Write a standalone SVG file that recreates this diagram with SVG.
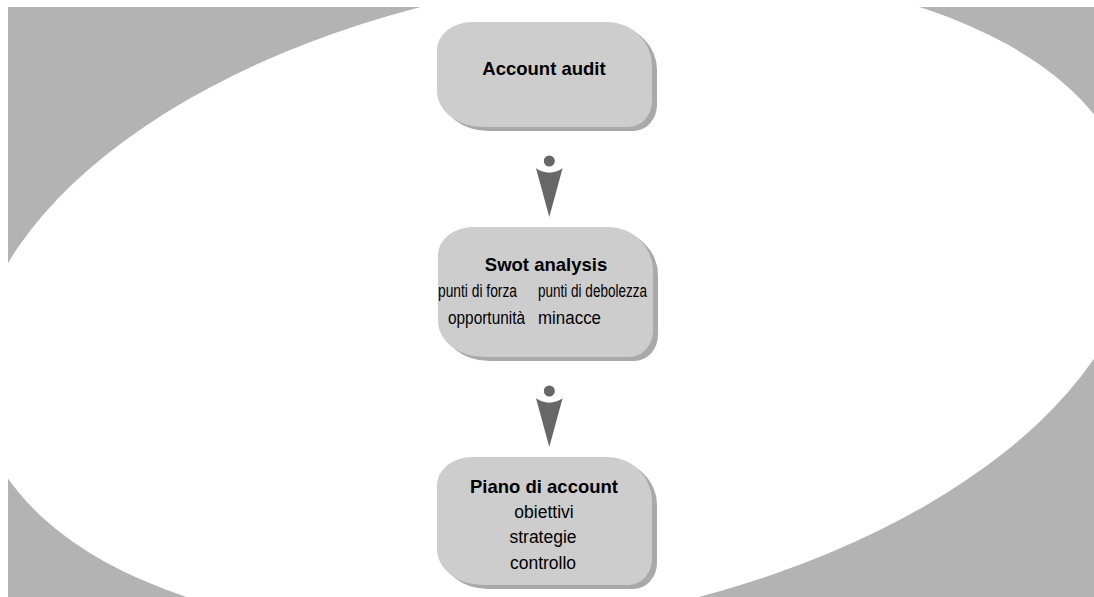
<svg xmlns="http://www.w3.org/2000/svg" width="1094" height="597" viewBox="0 0 1094 597">
<style>
.shadow{fill:#a9a9a9}
.box{fill:#cdcdcd}
.title{font-family:"Liberation Sans",Arial,sans-serif;font-weight:bold;font-size:18.5px;fill:#000;text-anchor:middle}
.sub{font-family:"Liberation Sans",Arial,sans-serif;font-size:17.5px;fill:#000}
.arrow{fill:#676767}
</style>
<defs>
<g id="arrowShape">
<circle cx="0" cy="0" r="5.5"/>
<path d="M -13.3 7.3 Q 0 16 13.3 7.3 L 0 56 Z"/>
</g>
<path id="shape105" d="M35,0 H170 A45,44 0 0 1 215,44 V79 A24,26 0 0 1 191,105 H46 A46,36 0 0 1 0,69 V28 A35,28 0 0 1 35,0 Z"/>
<path id="shape130" d="M35,0 H170 A45,44 0 0 1 215,44 V104 A24,26 0 0 1 191,130 H46 A46,36 0 0 1 0,94 V28 A35,28 0 0 1 35,0 Z"/>
<path id="shape128" d="M35,0 H170 A45,44 0 0 1 215,44 V102 A24,26 0 0 1 191,128 H46 A46,36 0 0 1 0,92 V28 A35,28 0 0 1 35,0 Z"/>
</defs>
<rect x="0" y="0" width="1094" height="597" fill="#ffffff"/>
<rect x="8" y="7" width="1086" height="590" fill="#b3b3b3"/>
<ellipse cx="556" cy="303" rx="588" ry="318" transform="rotate(-10 556 303)" fill="#ffffff"/>

<g id="connectors">
<use href="#arrowShape" class="arrow" x="549.3" y="161"/>
<use href="#arrowShape" class="arrow" x="549.3" y="391"/>
</g>

<g id="node-account-audit">
<use href="#shape105" class="shadow" x="442" y="26"/>
<use href="#shape105" class="box" x="437" y="22"/>
<text class="title" x="544" y="75">Account audit</text>
</g>

<g id="node-swot-analysis">
<use href="#shape130" class="shadow" x="443" y="231"/>
<use href="#shape130" class="box" x="438" y="227"/>
<text class="title" x="546" y="271">Swot analysis</text>
<text class="sub" x="438" y="297" textLength="79" lengthAdjust="spacingAndGlyphs">punti di forza</text>
<text class="sub" x="538" y="297" textLength="109" lengthAdjust="spacingAndGlyphs">punti di debolezza</text>
<text class="sub" x="448" y="324" textLength="77" lengthAdjust="spacingAndGlyphs">opportunità</text>
<text class="sub" x="538" y="324" textLength="63" lengthAdjust="spacingAndGlyphs">minacce</text>
</g>

<g id="node-piano-di-account">
<use href="#shape128" class="shadow" x="442" y="461"/>
<use href="#shape128" class="box" x="437" y="457"/>
<text class="title" x="544" y="493">Piano di account</text>
<text class="sub" x="544" y="518" text-anchor="middle">obiettivi</text>
<text class="sub" x="543" y="543" text-anchor="middle">strategie</text>
<text class="sub" x="543" y="569" text-anchor="middle">controllo</text>
</g>
</svg>
